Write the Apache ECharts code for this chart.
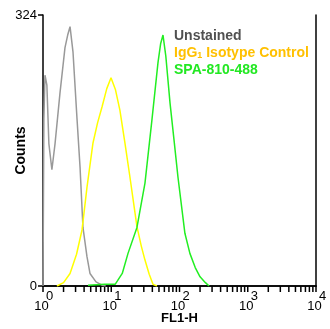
<!DOCTYPE html>
<html><head><meta charset="utf-8">
<script src="https://cdn.jsdelivr.net/npm/echarts@6/dist/echarts.min.js"></script>
<style>html,body{margin:0;padding:0;background:#fff}#c{width:330px;height:329px}</style>
</head><body><div id="c"></div>
<script>
// FL1-H intensity (log scale) and counts
const unstainedX = [1.0, 1.03, 1.07, 1.14, 1.22, 1.35, 1.5, 1.77, 2.1, 2.3, 2.49, 2.75, 3.15, 3.49, 3.85, 4.41, 4.88, 5.98, 7.32, 8.3];
const unstainedY = [0, 200, 252, 240, 170, 139, 170, 230, 285, 300, 310, 280, 200, 142, 70, 35, 15, 5, 1, 0];
const isotypeX = [1.6, 2.0, 2.49, 3.1, 3.73, 4.41, 5.4, 6.3, 7.32, 8.6, 9.92, 11.5, 13.4, 15.8, 18.8, 23.8, 27.5, 31.2, 36, 40.9, 46.8];
const isotypeY = [0, 4, 15, 38, 67, 118, 171, 195, 214, 236, 249, 235, 210, 172, 130, 71, 48, 31, 14, 2, 0];
const stainedX = [4.56, 8, 11.4, 14.5, 17.6, 23.8, 31.2, 39.5, 48.4, 53, 57.3, 63, 72.6, 83, 95, 120, 142, 170, 200, 240, 271];
const stainedY = [1, 2, 2, 15, 39, 70, 123, 199, 267, 290, 300, 275, 219, 175, 130, 63, 39, 22, 11, 4, 0];
const xMajorTicks = [1, 10, 100, 1000, 10000];
const yMax = 324;
const seriesNames = ['Unstained', 'IgG1 Isotype Control', 'SPA-810-488'];

// tick marks at 1..9 x 10^n
const xTickValues = [];
for (let d = 1; d < 10000; d *= 10) for (let k = 1; k <= 9; k++) xTickValues.push(d * k);
xTickValues.push(10000);

const pair = (xs, ys) => xs.map((x, i) => [x, ys[i]]);
const font = 'Liberation Sans, Arial, sans-serif';
const blk = {color: '#000', width: 1.5};

const chart = echarts.init(document.getElementById('c'));
chart.setOption({
  animation: false,
  grid: {left: 43, top: 15, right: 14, bottom: 43, containLabel: false, outerBoundsMode: 'none'},
  xAxis: [{
    type: 'log', logBase: 10, min: 1, max: 10000,
    name: 'FL1-H', nameLocation: 'middle', nameGap: 26, nameMoveOverlap: false,
    nameTextStyle: {fontFamily: font, fontSize: 13, fontWeight: 'bold', color: '#000'},
    axisLine: {lineStyle: blk},
    axisTick: {show: false},
    splitLine: {show: false},
    axisLabel: {
      customValues: xMajorTicks, margin: 5, color: '#000',
      formatter: v => '{s|' + Math.round(Math.log10(v)) + '}\n{b|10}',
      rich: {
        b: {fontFamily: font, fontSize: 13, color: '#000', lineHeight: 11, padding: [0, 3, 0, 0]},
        s: {fontFamily: font, fontSize: 13, color: '#000', lineHeight: 10, padding: [0, 0, 0, 13]}
      }
    }
  }, {
    type: 'value', min: 0, max: 4, position: 'top',
    axisLine: {show: true, lineStyle: blk}, axisTick: {show: false}, axisLabel: {show: false}, splitLine: {show: false}
  }],
  yAxis: [{
    type: 'value', min: 0, max: yMax, interval: yMax,
    name: 'Counts', nameLocation: 'middle', nameGap: 15, nameRotate: 90, nameMoveOverlap: false,
    nameTextStyle: {fontFamily: font, fontSize: 14, fontWeight: 'bold', color: '#000'},
    axisLine: {show: true, lineStyle: blk},
    axisTick: {show: true, length: 5, lineStyle: {color: '#000', width: 1.5}},
    splitLine: {show: false},
    axisLabel: {margin: 6, fontFamily: font, fontSize: 13, color: '#000', padding: [6, 0, 0, 0]}
  }, {
    type: 'value', min: 0, max: yMax, position: 'right',
    axisLine: {show: true, lineStyle: blk}, axisTick: {show: false}, axisLabel: {show: false}, splitLine: {show: false}
  }],
  series: [
    {name: seriesNames[0], type: 'line', data: pair(unstainedX, unstainedY), showSymbol: false, lineStyle: {color: '#999999', width: 1.5}},
    {name: seriesNames[1], type: 'line', data: pair(isotypeX, isotypeY), showSymbol: false, lineStyle: {color: '#ffff00', width: 1.5}},
    {name: seriesNames[2], type: 'line', data: pair(stainedX, stainedY), showSymbol: false, lineStyle: {color: '#22ee22', width: 1.5}},
    {
      type: 'custom', clip: false, xAxisIndex: 0, yAxisIndex: 0,
      data: xTickValues.map(v => [v, 0]),
      renderItem: (params, api) => {
        const p = api.coord([api.value(0), 0]);
        return {type: 'line', shape: {x1: p[0], y1: p[1], x2: p[0], y2: p[1] + 6}, style: {stroke: '#000', lineWidth: 1.5}};
      }
    }
  ],
  graphic: [
    {type: 'text', left: 174, top: 29, style: {text: seriesNames[0], fill: '#505050', font: 'bold 14px ' + font}},
    {type: 'text', left: 174, top: 46, style: {text: '{a|IgG}{s|1}{a| Isotype Control}', fill: '#ffc000', font: 'bold 14px ' + font,
      rich: {a: {fontFamily: font, fontSize: 14, fontWeight: 'bold', fill: '#ffc000'}, s: {fontFamily: font, fontSize: 9, fontWeight: 'bold', fill: '#ffc000', padding: [6, 0, 0, 0]}}}},
    {type: 'text', left: 174, top: 63, style: {text: seriesNames[2], fill: '#22e822', font: 'bold 14px ' + font}}
  ]
});
</script></body></html>
